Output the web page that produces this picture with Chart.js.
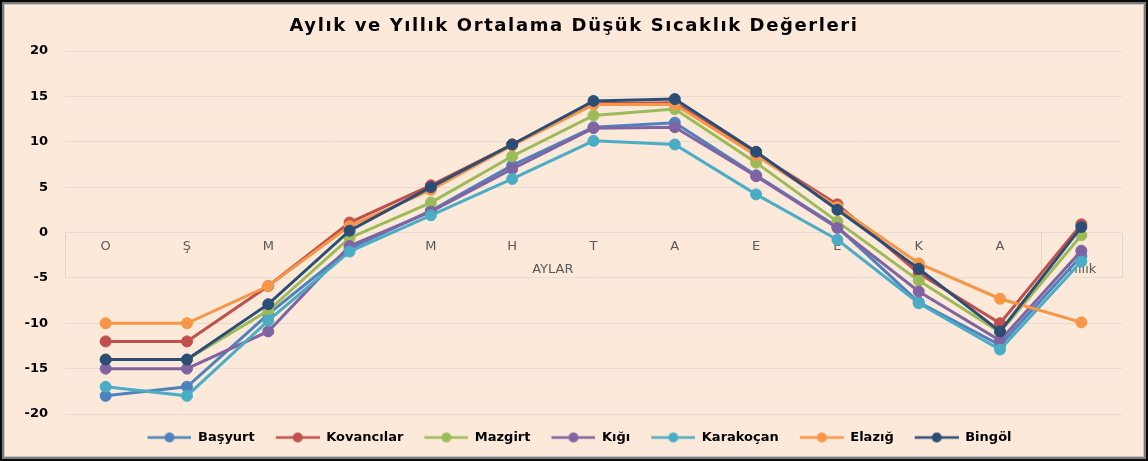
<!DOCTYPE html>
<html><head><meta charset="utf-8">
<script src="https://cdn.jsdelivr.net/npm/chart.js@4.4.0/dist/chart.umd.min.js"></script>
<style>
html,body{margin:0;padding:0;background:#fff;}
#wrap{position:absolute;left:0;top:0;width:1148px;height:461px;box-sizing:border-box;border:2px solid #0a0a0a;}
#inner{position:absolute;left:0;top:0;right:0;bottom:0;border:2px solid #7a7a7a;box-shadow:inset 0 0 0 1px #c8c8c8;background:#FDE9D9;}
#c{position:absolute;left:0;top:0;}
</style></head><body>
<div id="wrap"><div id="inner"></div></div>
<canvas id="c" width="1148" height="461"></canvas>
<script>
const categories = ['O','Ş','M','N','M','H','T','A','E','E','K','A',''];
const groupLabels = ['AYLAR','Yıllık'];
const yTicks = [-20,-15,-10,-5,0,5,10,15,20];
const seriesNames = ['Başyurt','Kovancılar','Mazgirt','Kığı','Karakoçan','Elazığ','Bingöl'];
const basyurt    = [-18, -17, -9.0, -1.8, 2.4, 7.4, 11.6, 12.1, 6.3, 0.6, -7.7, -12.4, -2.6];
const kovancilar = [-12, -12, -5.9, 1.1, 5.2, 9.7, 14.2, 14.3, 8.7, 3.1, -4.5, -10.0, 0.9];
const mazgirt    = [-14, -14, -8.6, -0.6, 3.3, 8.4, 12.9, 13.6, 7.7, 1.2, -5.3, -11.0, -0.3];
const kigi       = [-15, -15, -10.9, -1.5, 2.3, 7.0, 11.5, 11.6, 6.2, 0.5, -6.5, -11.9, -2.0];
const karakocan  = [-17, -18, -9.7, -2.1, 1.9, 5.9, 10.1, 9.7, 4.2, -0.8, -7.8, -12.9, -3.2];
const elazig     = [-10, -10, -5.9, 0.7, 4.7, 9.6, 14.1, 14.1, 8.5, 2.8, -3.4, -7.3, -9.9];
const bingol     = [-14, -14, -7.9, 0.2, 5.0, 9.7, 14.5, 14.7, 8.9, 2.5, -4.0, -10.9, 0.6];
const seriesValues = [basyurt, kovancilar, mazgirt, kigi, karakocan, elazig, bingol];
const colors = ['#4F81BD','#C0504D','#9BBB59','#8064A2','#4BACC6','#F79646','#2C4D75'];

const FONT = '"DejaVu Sans", Verdana, sans-serif';

function makeIcon(color) {
  const c = document.createElement('canvas');
  c.width = 55; c.height = 12;
  const g = c.getContext('2d');
  g.strokeStyle = color; g.lineWidth = 2.5;
  g.beginPath(); g.moveTo(11, 6); g.lineTo(55, 6); g.stroke();
  g.fillStyle = color;
  g.beginPath(); g.arc(33, 6, 5, 0, Math.PI * 2); g.fill();
  return c;
}
const legendIcons = colors.map(makeIcon);

const groupPlugin = {
  id: 'groups',
  beforeDatasetsDraw(chart) {
    const {ctx} = chart;
    const x = chart.scales.x, y = chart.scales.y;
    const half = (x.getPixelForValue(1) - x.getPixelForValue(0)) / 2;
    const left = x.getPixelForValue(0) - half;
    const mid = x.getPixelForValue(categories.length - 2) + half;
    const right = x.getPixelForValue(categories.length - 1) + half;
    const y0 = y.getPixelForValue(0), y5 = y.getPixelForValue(-5);
    ctx.save();
    ctx.strokeStyle = '#DDD6CF'; ctx.lineWidth = 1;
    [left, mid, right].forEach(px => {
      const p = Math.round(px) + 0.5;
      ctx.beginPath(); ctx.moveTo(p, y0); ctx.lineTo(p, y5); ctx.stroke();
    });
    ctx.fillStyle = '#595959';
    ctx.font = '13px ' + FONT;
    ctx.textAlign = 'center'; ctx.textBaseline = 'middle';
    const yl = y0 + (y5 - y0) * 0.82;
    ctx.fillText(groupLabels[0], (left + mid) / 2, yl);
    ctx.fillText(groupLabels[1], (mid + right) / 2, yl);
    ctx.restore();
  }
};

const chart = new Chart(document.getElementById('c'), {
  type: 'line',
  data: {
    labels: categories,
    datasets: seriesNames.map((name, i) => ({
      label: name,
      data: seriesValues[i],
      borderColor: colors[i],
      backgroundColor: colors[i],
      pointBackgroundColor: colors[i],
      pointBorderColor: colors[i],
      borderWidth: 3,
      pointRadius: 5.5,
      pointBorderWidth: 1,
      tension: 0,
      order: seriesNames.length - i
    }))
  },
  options: {
    responsive: false,
    animation: false,
    devicePixelRatio: 1,
    layout: { padding: { left: 0, right: 0, top: 0, bottom: 7 } },
    plugins: {
      tooltip: { enabled: false },
      title: {
        display: true,
        text: 'Aylık ve Yıllık Ortalama Düşük Sıcaklık Değerleri',
        color: '#000',
        font: { family: FONT, size: 18, weight: 'bold' },
        padding: { top: 15.7, bottom: 13.7 }
      },
      legend: {
        position: 'bottom',
        labels: {
          usePointStyle: true,
          pointStyleWidth: 55,
          boxHeight: 12,
          padding: 10,
          color: '#000',
          font: { family: FONT, size: 13, weight: 'bold' },
          generateLabels: chart => chart.data.datasets.map((ds, i) => ({
            text: ds.label,
            pointStyle: legendIcons[i],
            fillStyle: ds.borderColor,
            strokeStyle: ds.borderColor,
            lineWidth: 0,
            fontColor: '#000',
            hidden: !chart.isDatasetVisible(i),
            datasetIndex: i
          }))
        }
      }
    },
    scales: {
      x: {
        type: 'category',
        position: { y: 0 },
        offset: true,
        grid: { display: false, drawTicks: false },
        border: { display: false },
        ticks: { color: '#595959', font: { family: FONT, size: 13 }, padding: 6, maxRotation: 0, autoSkip: false }
      },
      xB: {
        type: 'category',
        position: 'bottom',
        display: true,
        grid: { display: false, drawTicks: false },
        border: { display: false },
        ticks: { display: false },
        afterFit: s => { s.height = 7; }
      },
      y: {
        min: -20, max: 20,
        position: 'left',
        afterBuildTicks: s => { s.ticks = yTicks.map(v => ({ value: v })); },
        grid: { color: '#E6DBD1', lineWidth: 1, drawTicks: false },
        border: { display: false },
        ticks: { color: '#000', font: { family: FONT, size: 13, weight: 'bold' }, padding: 17 },
        afterFit: s => { s.width = 65; }
      },
      yR: {
        position: 'right',
        display: true,
        grid: { display: false },
        border: { display: false },
        ticks: { display: false },
        afterFit: s => { s.width = 26; }
      }
    }
  },
  plugins: [groupPlugin]
});

// letter-spaced title, as in the reference
const tb = chart.titleBlock;
if (tb) {
  const origDraw = tb.draw.bind(tb);
  tb.draw = function () {
    const ctx = chart.ctx;
    ctx.save();
    if ('letterSpacing' in ctx) ctx.letterSpacing = '1.6px';
    origDraw();
    ctx.restore();
  };
  chart.draw();
}
</script>
</body></html>
